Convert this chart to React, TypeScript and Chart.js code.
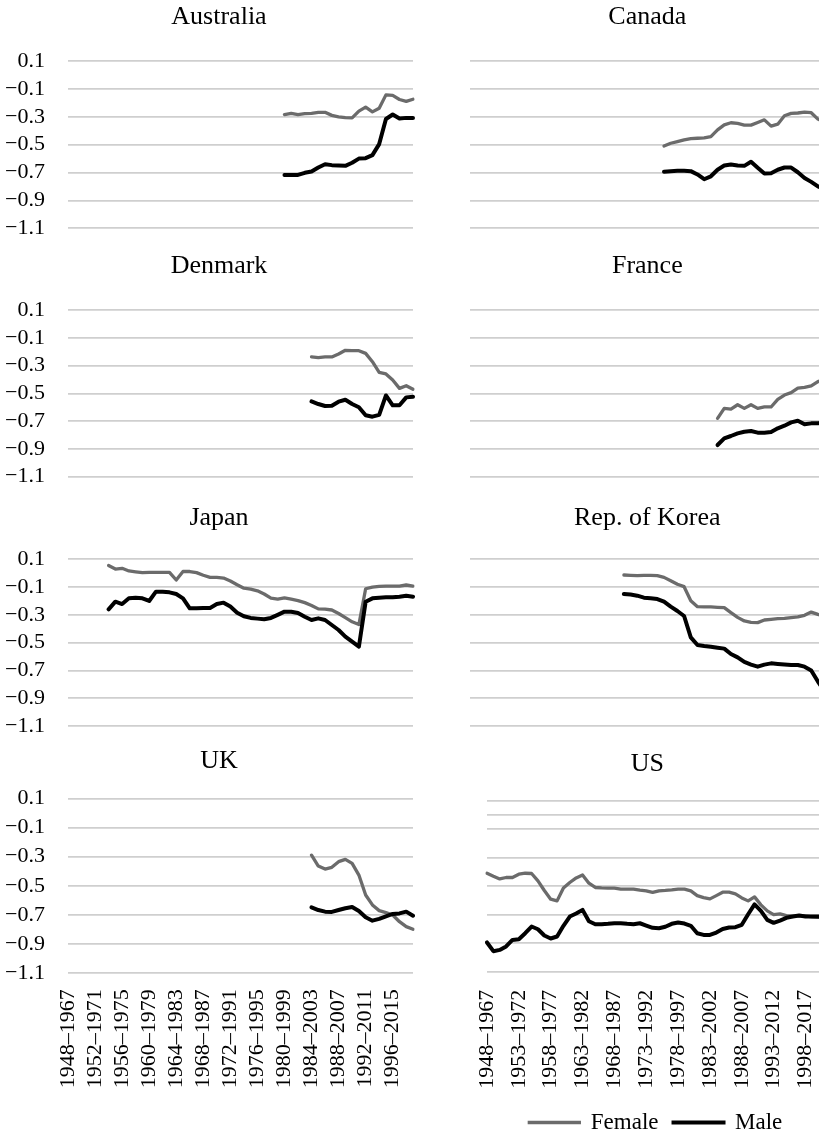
import React, { useEffect, useRef } from "react";
import { Chart, registerables } from "chart.js";

Chart.register(...registerables);

// ---------- styling ----------
const FONT_FAMILY = "'Liberation Serif', 'Times New Roman', serif";
const FEMALE_COLOR = "#6b6b6b";
const MALE_COLOR = "#000000";
const GRID_COLOR = "#cfcfcf";

// ---------- categories (20-year rolling windows) ----------
const FIRST_WINDOW_START = 1948;
const WINDOW_SPAN = 19;
const LEFT_CATEGORY_COUNT = 52; // 1948–1967 … 1999–2018
const RIGHT_CATEGORY_COUNT = 54; // 1948–1967 … 2001–2020
const makeCategories = (n: number) =>
  Array.from({ length: n }, (_, i) => `${FIRST_WINDOW_START + i}–${FIRST_WINDOW_START + i + WINDOW_SPAN}`);
const LEFT_CATEGORIES = makeCategories(LEFT_CATEGORY_COUNT);
const RIGHT_CATEGORIES = makeCategories(RIGHT_CATEGORY_COUNT);
const LEFT_LABEL_STEP = 4;
const RIGHT_LABEL_STEP = 5;

// ---------- value axis ----------
const Y_MIN = -1.1;
const Y_MAX = 0.1;
const Y_TICKS = [-1.1, -0.9, -0.7, -0.5, -0.3, -0.1, 0.1];
const US_AXIS_LINE = 0;

const SERIES_NAMES = ["Female", "Male"];

// ---------- data (index of first category, then values) ----------
const AUS_START = 32;
const AUS_FEMALE = [-0.284, -0.275, -0.284, -0.277, -0.275, -0.268, -0.268, -0.29, -0.3, -0.306, -0.308, -0.26, -0.231, -0.265, -0.239, -0.143, -0.147, -0.176, -0.19, -0.174];
const AUS_MALE = [-0.717, -0.717, -0.717, -0.702, -0.693, -0.664, -0.64, -0.647, -0.65, -0.652, -0.63, -0.6, -0.597, -0.575, -0.496, -0.316, -0.284, -0.313, -0.308, -0.308];

const CAN_START = 29;
const CAN_FEMALE = [-0.51, -0.49, -0.478, -0.466, -0.457, -0.454, -0.452, -0.442, -0.394, -0.358, -0.343, -0.348, -0.36, -0.36, -0.341, -0.322, -0.367, -0.353, -0.293, -0.276, -0.273, -0.266, -0.271, -0.317, -0.34];
const CAN_MALE = [-0.695, -0.69, -0.688, -0.688, -0.69, -0.714, -0.748, -0.727, -0.68, -0.65, -0.642, -0.65, -0.652, -0.623, -0.666, -0.707, -0.705, -0.68, -0.664, -0.664, -0.698, -0.739, -0.767, -0.8, -0.82];

const DEN_START = 36;
const DEN_FEMALE = [-0.238, -0.243, -0.238, -0.238, -0.217, -0.19, -0.193, -0.193, -0.212, -0.272, -0.349, -0.36, -0.404, -0.464, -0.445, -0.471];
const DEN_MALE = [-0.558, -0.577, -0.591, -0.589, -0.56, -0.546, -0.577, -0.6, -0.658, -0.668, -0.655, -0.515, -0.586, -0.586, -0.529, -0.524];

const FRA_START = 37;
const FRA_FEMALE = [-0.68, -0.608, -0.613, -0.582, -0.608, -0.582, -0.608, -0.598, -0.598, -0.543, -0.512, -0.495, -0.462, -0.457, -0.447, -0.416, -0.4];
const FRA_MALE = [-0.872, -0.824, -0.807, -0.788, -0.776, -0.771, -0.783, -0.783, -0.778, -0.752, -0.733, -0.709, -0.697, -0.723, -0.716, -0.716, -0.71];

const JPN_START = 6;
const JPN_FEMALE = [0.055, 0.03, 0.035, 0.016, 0.01, 0.004, 0.006, 0.006, 0.006, 0.006, -0.049, 0.012, 0.012, 0.004, -0.015, -0.03, -0.03, -0.035, -0.056, -0.083, -0.108, -0.115, -0.127, -0.15, -0.18, -0.187, -0.178, -0.187, -0.197, -0.212, -0.232, -0.257, -0.258, -0.265, -0.29, -0.32, -0.35, -0.37, -0.112, -0.1, -0.095, -0.093, -0.093, -0.093, -0.085, -0.093];
const JPN_MALE = [-0.26, -0.205, -0.222, -0.181, -0.176, -0.181, -0.2, -0.133, -0.133, -0.138, -0.15, -0.181, -0.253, -0.253, -0.25, -0.25, -0.222, -0.212, -0.24, -0.284, -0.31, -0.322, -0.327, -0.332, -0.322, -0.3, -0.277, -0.277, -0.286, -0.313, -0.337, -0.325, -0.337, -0.373, -0.409, -0.457, -0.493, -0.529, -0.205, -0.181, -0.176, -0.174, -0.174, -0.169, -0.162, -0.169];

const KOR_START = 23;
const KOR_FEMALE = [-0.013, -0.015, -0.018, -0.015, -0.015, -0.018, -0.03, -0.054, -0.08, -0.097, -0.198, -0.241, -0.243, -0.243, -0.246, -0.248, -0.284, -0.318, -0.344, -0.354, -0.356, -0.337, -0.332, -0.327, -0.325, -0.32, -0.315, -0.303, -0.28, -0.296, -0.31];
const KOR_MALE = [-0.15, -0.154, -0.162, -0.176, -0.181, -0.186, -0.205, -0.241, -0.272, -0.308, -0.462, -0.517, -0.524, -0.529, -0.536, -0.543, -0.582, -0.606, -0.639, -0.658, -0.673, -0.658, -0.649, -0.654, -0.658, -0.661, -0.661, -0.673, -0.7, -0.78, -0.85];

const UK_START = 36;
const UK_FEMALE = [-0.29, -0.364, -0.385, -0.373, -0.334, -0.318, -0.346, -0.426, -0.563, -0.631, -0.67, -0.684, -0.7, -0.746, -0.78, -0.798];
const UK_MALE = [-0.647, -0.666, -0.677, -0.679, -0.666, -0.654, -0.645, -0.673, -0.716, -0.739, -0.727, -0.709, -0.693, -0.689, -0.677, -0.705];

const US_START = 0;
const US_FEMALE = [-0.409, -0.43, -0.449, -0.439, -0.439, -0.416, -0.409, -0.411, -0.463, -0.53, -0.591, -0.603, -0.512, -0.474, -0.442, -0.421, -0.479, -0.509, -0.512, -0.514, -0.514, -0.521, -0.521, -0.521, -0.528, -0.533, -0.544, -0.533, -0.53, -0.526, -0.521, -0.521, -0.533, -0.566, -0.58, -0.589, -0.566, -0.542, -0.542, -0.554, -0.582, -0.603, -0.575, -0.631, -0.673, -0.699, -0.694, -0.706, -0.71, -0.706, -0.708, -0.715, -0.718, -0.72];
const US_MALE = [-0.895, -0.956, -0.947, -0.923, -0.877, -0.872, -0.83, -0.783, -0.802, -0.846, -0.867, -0.853, -0.778, -0.713, -0.692, -0.666, -0.746, -0.767, -0.767, -0.764, -0.76, -0.76, -0.764, -0.767, -0.76, -0.776, -0.792, -0.795, -0.785, -0.764, -0.755, -0.762, -0.778, -0.83, -0.842, -0.842, -0.825, -0.8, -0.79, -0.788, -0.771, -0.697, -0.628, -0.673, -0.736, -0.757, -0.741, -0.722, -0.713, -0.706, -0.713, -0.713, -0.713, -0.715];

// ---------- panels ----------
type PanelSpec = {
  title: string;
  col: number;
  row: number;
  start: number;
  female: number[];
  male: number[];
  isUS?: boolean;
};

const PANELS: PanelSpec[] = [
  { title: "Australia", col: 0, row: 0, start: AUS_START, female: AUS_FEMALE, male: AUS_MALE },
  { title: "Canada", col: 1, row: 0, start: CAN_START, female: CAN_FEMALE, male: CAN_MALE },
  { title: "Denmark", col: 0, row: 1, start: DEN_START, female: DEN_FEMALE, male: DEN_MALE },
  { title: "France", col: 1, row: 1, start: FRA_START, female: FRA_FEMALE, male: FRA_MALE },
  { title: "Japan", col: 0, row: 2, start: JPN_START, female: JPN_FEMALE, male: JPN_MALE },
  { title: "Rep. of Korea", col: 1, row: 2, start: KOR_START, female: KOR_FEMALE, male: KOR_MALE },
  { title: "UK", col: 0, row: 3, start: UK_START, female: UK_FEMALE, male: UK_MALE },
  { title: "US", col: 1, row: 3, start: US_START, female: US_FEMALE, male: US_MALE, isUS: true },
];

// ---------- layout ----------
const TITLE_SIZE = 26;
const TICK_SIZE = 22;
const LEGEND_SIZE = 23;
const LEGEND_PADDING = 15;
const LEGEND_HEIGHT = LEGEND_SIZE + LEGEND_PADDING + 10;
const BOTTOM_PAD = 40;
const FEMALE_WIDTH = 3.3;
const MALE_WIDTH = 4;

const COLS = [
  { left: 0, width: 460, padLeft: 0, axisWidth: 68, padRight: 22, rightBox: 25 },
  { left: 438, width: 412, padLeft: 32, axisWidth: 0, padRight: 25.4, rightBox: 0 },
];
const US_COL = { left: 438, width: 432, padLeft: 32, axisWidth: 17, padRight: 45.4, rightBox: 0 };

const ROW_BOXES = [
  { top: 0, height: 0, titleMid: 17, plotTop: 61, plotBottom: 228.3, labelPad: 0 },
  { top: 250, height: 0, titleMid: 266.4, plotTop: 310, plotBottom: 476.7, labelPad: 0 },
  { top: 500, height: 0, titleMid: 518, plotTop: 559.3, plotBottom: 726, labelPad: 0 },
  { top: 740, height: 392, titleMid: 761.5, plotTop: 798.4, plotBottom: 973.3, labelPad: 16 },
];
const US_BOX = { top: 740, height: 404, titleMid: 764, plotTop: 800.7, plotBottom: 971.7, labelPad: 18 };

const fmtTick = (v: number) => (v < 0 ? "\u2212" : "") + Math.abs(v).toFixed(1);

function placeValues(count: number, start: number, values: number[]) {
  const arr: (number | null)[] = new Array(count).fill(null);
  values.forEach((v, k) => {
    if (start + k < count) arr[start + k] = v;
  });
  return arr;
}

function getGeometry(p: PanelSpec) {
  const col = p.isUS ? US_COL : COLS[p.col];
  const box = p.isUS ? US_BOX : ROW_BOXES[p.row];
  const bottomRow = p.row === 3;
  const layoutTop = box.titleMid - TITLE_SIZE / 2 - box.top;
  const titleGap = box.plotTop - (box.titleMid + TITLE_SIZE / 2);
  let height = box.height;
  let padBottom = 0;
  let xAxisHeight = 0;
  if (!bottomRow) {
    height = Math.ceil(box.plotBottom - box.top + BOTTOM_PAD);
    padBottom = box.top + height - box.plotBottom;
  } else if (p.isUS) {
    xAxisHeight = box.top + box.height - LEGEND_HEIGHT - box.plotBottom;
  } else {
    xAxisHeight = box.top + box.height - box.plotBottom;
  }
  return {
    left: col.left,
    top: box.top,
    width: col.width,
    height,
    padLeft: col.padLeft,
    padRight: col.padRight,
    axisWidth: col.axisWidth,
    rightBox: col.rightBox,
    layoutTop,
    titleGap,
    padBottom,
    xAxisHeight,
    bottomRow,
    labelPad: box.labelPad,
  };
}

function buildConfig(p: PanelSpec): any {
  const g = getGeometry(p);
  const cats = p.col === 0 ? LEFT_CATEGORIES : RIGHT_CATEGORIES;
  const step = p.col === 0 ? LEFT_LABEL_STEP : RIGHT_LABEL_STEP;
  const yTicks = p.isUS ? [...Y_TICKS, US_AXIS_LINE].sort((a, b) => a - b) : Y_TICKS;
  const tickFont = { family: FONT_FAMILY, size: TICK_SIZE, weight: "normal" };

  const xScale: any = g.bottomRow
    ? {
        type: "category",
        display: true,
        grid: { display: false, drawTicks: false },
        border: { display: false },
        ticks: {
          autoSkip: false,
          maxRotation: 90,
          minRotation: 90,
          padding: g.labelPad,
          color: "#000",
          font: tickFont,
          callback: (_v: any, index: number) => (index % step === 0 ? cats[index] : ""),
        },
        afterFit: (s: any) => {
          s.height = g.xAxisHeight;
        },
      }
    : { type: "category", display: false };

  const scales: any = {
    x: xScale,
    y: {
      type: "linear",
      position: "left",
      min: Y_MIN,
      max: Y_MAX,
      afterBuildTicks: (s: any) => {
        s.ticks = yTicks.map((v) => ({ value: v }));
      },
      grid: { color: GRID_COLOR, lineWidth: 1.7, drawTicks: false },
      border: { display: false },
      ticks: {
        display: p.col === 0,
        autoSkip: false,
        padding: 23,
        color: "#000",
        font: tickFont,
        callback: (v: any) => fmtTick(Number(v)),
      },
      afterFit: (s: any) => {
        s.width = g.axisWidth;
      },
    },
  };
  if (g.rightBox > 0) {
    scales.yRight = {
      type: "linear",
      position: "right",
      display: true,
      grid: { display: false, drawTicks: false },
      border: { display: false },
      ticks: { display: false },
      afterFit: (s: any) => {
        s.width = g.rightBox;
      },
    };
  }

  return {
    type: "line",
    data: {
      labels: cats,
      datasets: [
        {
          label: SERIES_NAMES[0],
          data: placeValues(cats.length, p.start, p.female),
          borderColor: FEMALE_COLOR,
          backgroundColor: FEMALE_COLOR,
          borderWidth: FEMALE_WIDTH,
          pointRadius: 0,
          pointHoverRadius: 0,
          tension: 0,
          borderCapStyle: "round",
          borderJoinStyle: "round",
          spanGaps: false,
          order: 1,
          yAxisID: "y",
        },
        {
          label: SERIES_NAMES[1],
          data: placeValues(cats.length, p.start, p.male),
          borderColor: MALE_COLOR,
          backgroundColor: MALE_COLOR,
          borderWidth: MALE_WIDTH,
          pointRadius: 0,
          pointHoverRadius: 0,
          tension: 0,
          borderCapStyle: "round",
          borderJoinStyle: "round",
          spanGaps: false,
          order: 0,
          yAxisID: "y",
        },
      ],
    },
    options: {
      responsive: false,
      maintainAspectRatio: false,
      animation: false,
      events: [],
      layout: {
        padding: { top: g.layoutTop, bottom: g.padBottom, left: g.padLeft, right: g.padRight },
      },
      plugins: {
        title: {
          display: true,
          text: p.title,
          color: "#000",
          font: { family: FONT_FAMILY, size: TITLE_SIZE, weight: "normal", lineHeight: 1 },
          padding: { top: 0, bottom: g.titleGap },
        },
        legend: p.isUS
          ? {
              display: true,
              position: "bottom",
              fullSize: false,
              labels: {
                usePointStyle: true,
                pointStyle: "line",
                pointStyleWidth: 50,
                padding: LEGEND_PADDING,
                color: "#000",
                font: { family: FONT_FAMILY, size: LEGEND_SIZE, weight: "normal" },
                generateLabels: (chart: any) =>
                  chart.data.datasets.map((ds: any, i: number) => ({
                    text: ds.label,
                    strokeStyle: ds.borderColor,
                    fillStyle: ds.borderColor,
                    lineWidth: ds.borderWidth,
                    lineCap: "square",
                    pointStyle: "line",
                    hidden: false,
                    datasetIndex: i,
                    fontColor: "#000",
                  })),
              },
            }
          : { display: false },
        tooltip: { enabled: false },
      },
      scales,
    },
  };
}

function PanelChart({ spec }: { spec: PanelSpec }) {
  const ref = useRef<HTMLCanvasElement | null>(null);
  const g = getGeometry(spec);
  useEffect(() => {
    if (!ref.current) return;
    const chart = new Chart(ref.current, buildConfig(spec));
    return () => chart.destroy();
  }, [spec]);
  return (
    <canvas
      ref={ref}
      width={g.width}
      height={g.height}
      style={{ position: "absolute", left: g.left, top: g.top, width: g.width, height: g.height, display: "block" }}
    />
  );
}

export default function App() {
  return (
    <div
      style={{
        position: "fixed",
        left: 0,
        top: 0,
        width: 819,
        height: 1132,
        overflow: "hidden",
        background: "#ffffff",
      }}
    >
      {PANELS.map((p) => (
        <PanelChart key={p.title} spec={p} />
      ))}
    </div>
  );
}
